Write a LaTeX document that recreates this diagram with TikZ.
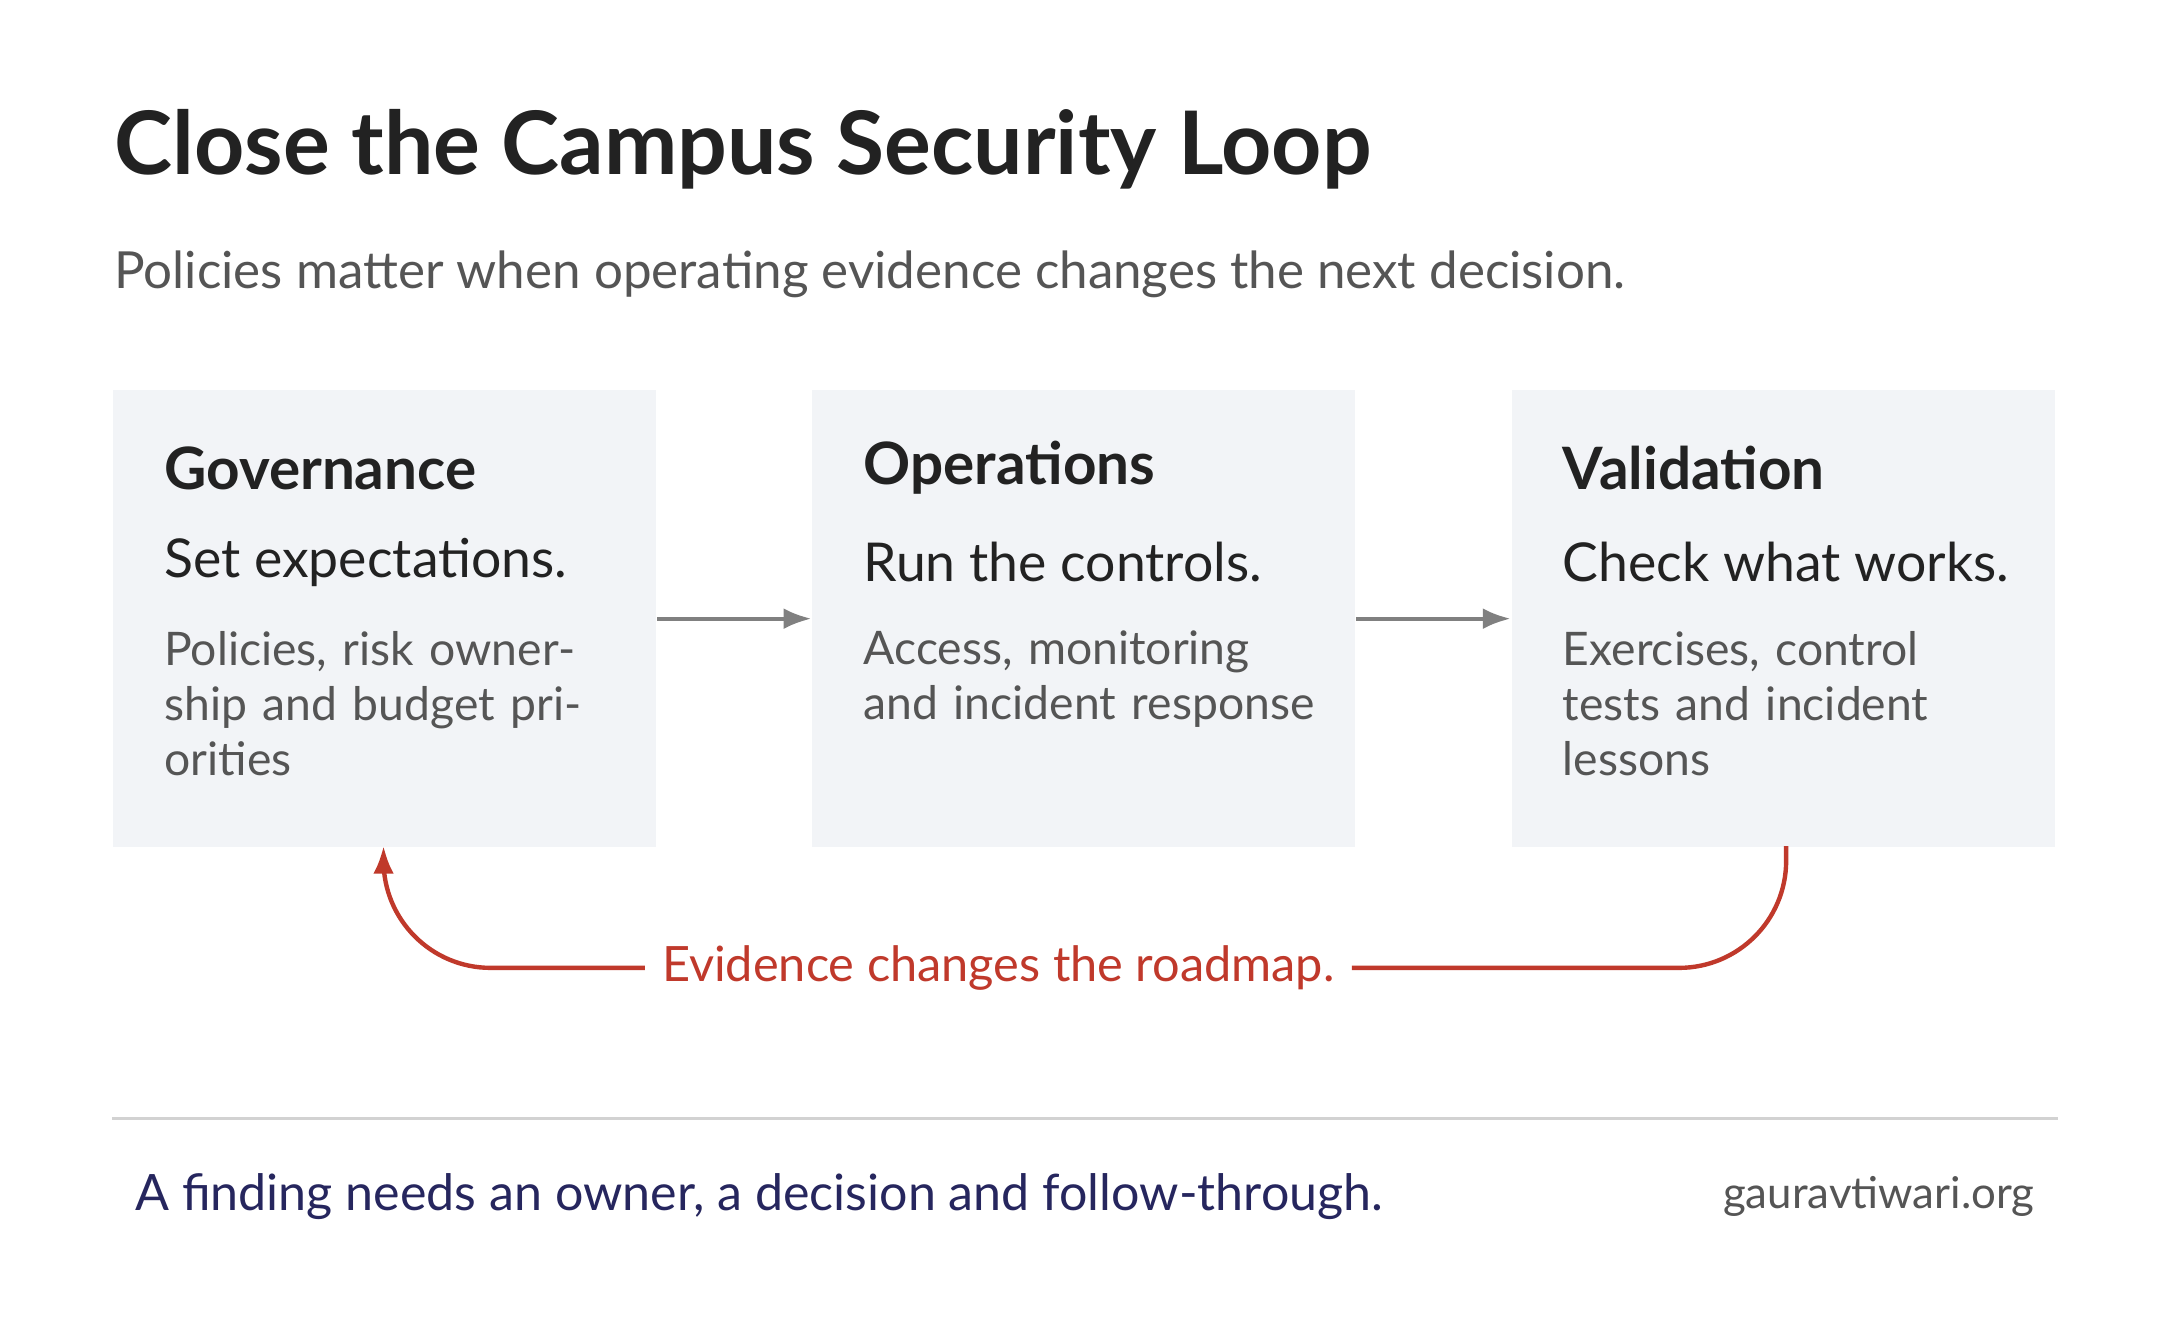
\documentclass[tikz,border=0pt]{standalone}
\usepackage{fontspec}
\setmainfont{Lato}
\usetikzlibrary{positioning,arrows.meta}
\definecolor{boxfill}{HTML}{F2F4F7}
\definecolor{loopred}{HTML}{C0392B}
\definecolor{navy}{HTML}{26265E}
\definecolor{ink}{HTML}{222222}
\definecolor{soft}{HTML}{555555}
\tikzset{
  stage/.style={fill=boxfill, minimum width=3.92cm, minimum height=3.3cm, anchor=north west, inner sep=0pt},
  head/.style={anchor=west, font=\fontsize{12}{14}\selectfont\bfseries, text=ink},
  lead/.style={anchor=west, font=\fontsize{11}{13}\selectfont, text=ink},
  body/.style={anchor=north west, inner sep=0pt, font=\fontsize{9.5}{11.3}\selectfont, text=soft, align=left, text width=3.3cm},
  flow/.style={-{Latex[length=2mm]}, draw=gray, line width=0.8pt},
}
\begin{document}
\begin{tikzpicture}[x=0.01cm, y=-0.01cm]
  \useasboundingbox[fill=white] (0,0) rectangle (1560,953);
  \node[anchor=west, inner sep=0pt, font=\fontsize{18}{22}\selectfont\bfseries, text=ink] (title) at (82,108) {Close the Campus Security Loop};
  \node[anchor=west, inner sep=0pt, font=\fontsize{10.5}{12}\selectfont, text=soft] (sub) at (82,198) {Policies matter when operating evidence changes the next decision.};

  % stages
  \node[stage] (gov) at (81,281) {};
  \node[stage] (ops) at (586,281) {};
  \node[stage] (val) at (1091,281) {};
  \foreach \x/\h/\l/\t in {118/Governance/Set expectations./{Policies, risk ownership and budget priorities},
                           623/Operations/Run the controls./{Access, monitoring and incident response},
                           1128/Validation/Check what works./{Exercises, control tests and incident lessons}} {
    \node[head, inner sep=0pt] at (\x,338) {\h};
    \node[lead, inner sep=0pt] at (\x,406) {\l};
    \node[body] at (\x,455) {\raggedright\hyphenpenalty=10000 \t};
  }
  \draw[flow] (gov.east) -- (ops.west);
  \draw[flow] (ops.east) -- (val.west);

  % feedback loop
  \node[font=\fontsize{10}{12}\selectfont, text=loopred] (loop) at (721,699) {Evidence changes the roadmap.};
  \coordinate (valout) at (1290,611);
  \coordinate (govin) at (277,611);
  \draw[loopred, line width=0.9pt, rounded corners=22] (valout) -- (1290,699) -- (loop.east);
  \draw[loopred, line width=0.9pt, rounded corners=22, -{Latex[length=2mm]}] (loop.west) -- (277,699) -- (govin);

  \draw[gray!35, line width=0.6pt] (81,808) -- (1486,808);
  \node[anchor=west, inner sep=0pt, font=\fontsize{10.3}{13}\selectfont, text=navy] (foot) at (97,864) {A finding needs an owner, a decision and follow-through.};
  \node[anchor=east, inner sep=0pt, font=\fontsize{9}{12}\selectfont, text=soft] (site) at (1470,864) {gauravtiwari.org};
\end{tikzpicture}
\end{document}
